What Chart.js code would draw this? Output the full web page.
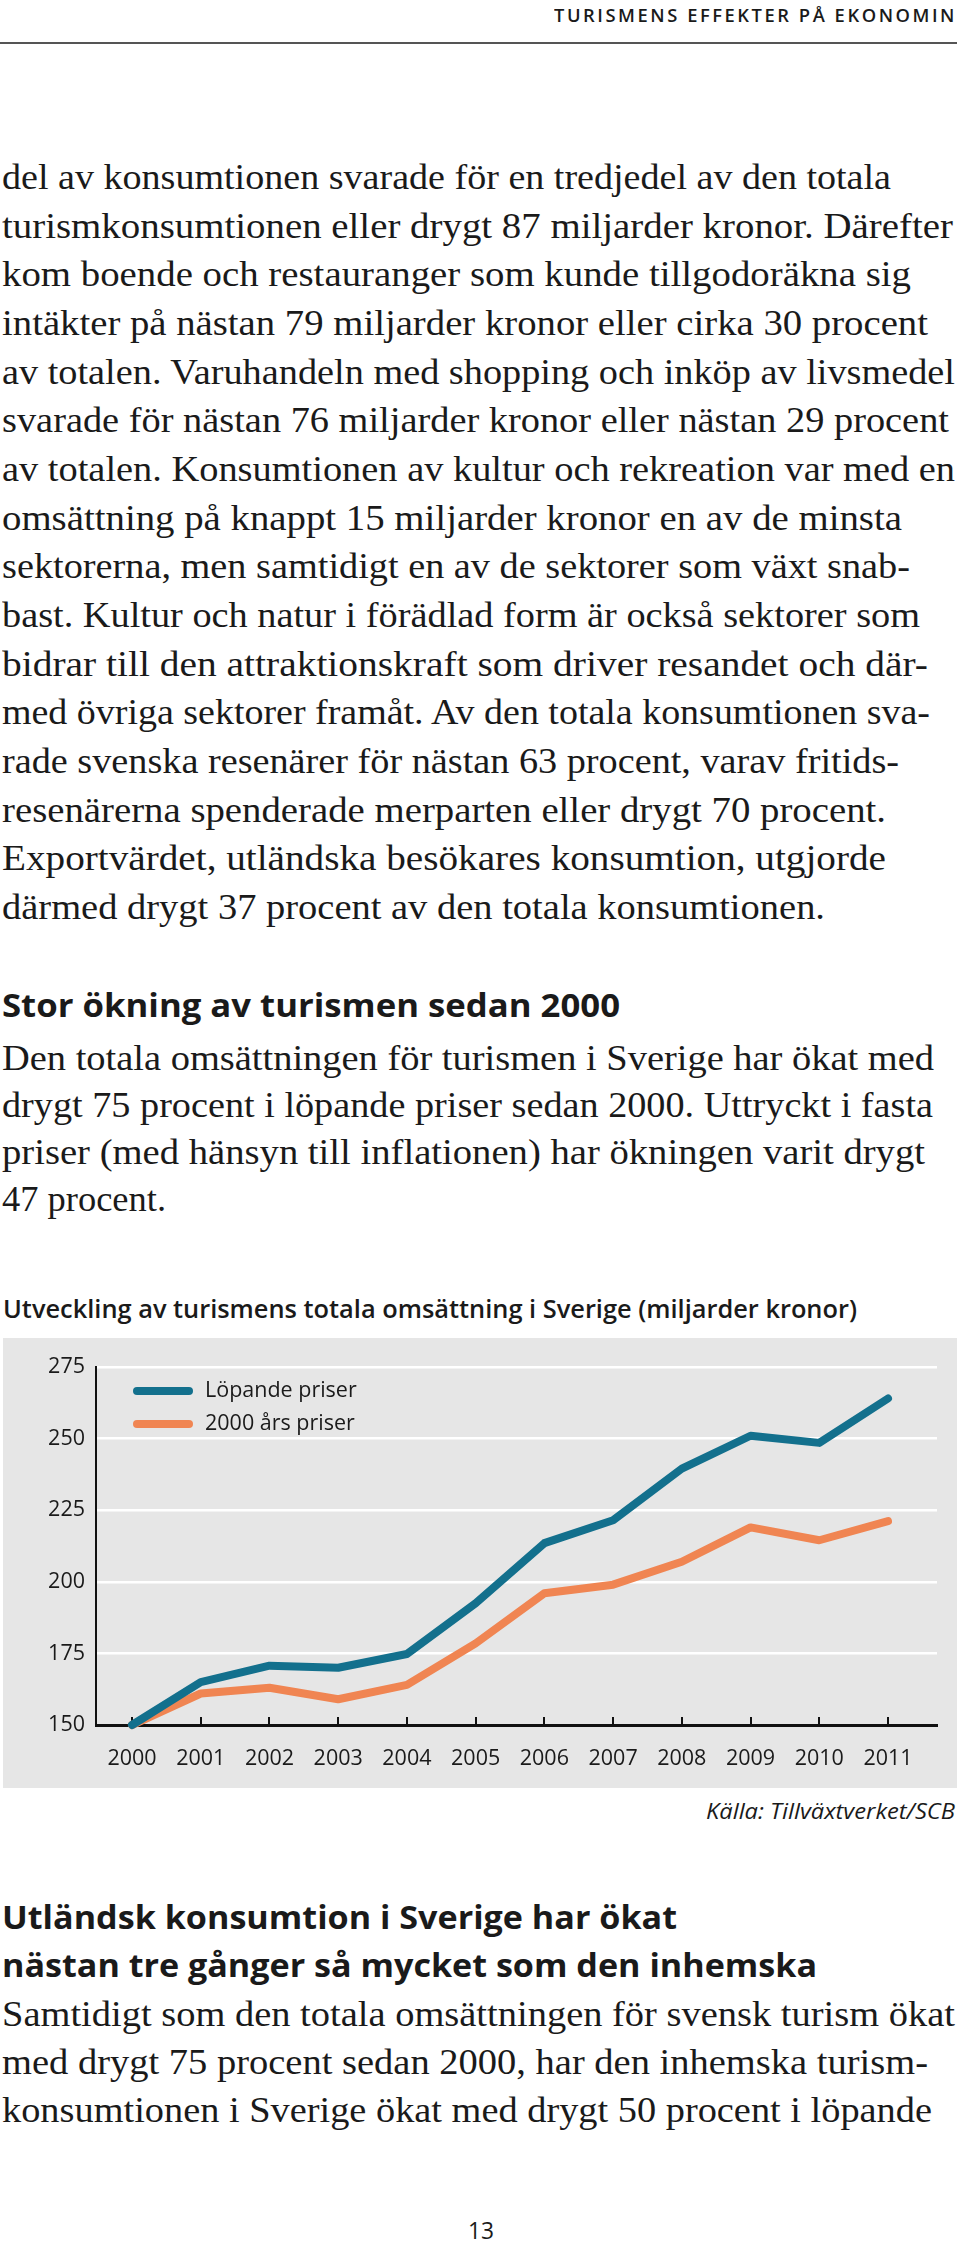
<!DOCTYPE html>
<html><head><meta charset="utf-8">
<script src="https://cdn.jsdelivr.net/npm/chart.js@4.4.0/dist/chart.umd.min.js"></script>
<style>
html,body{margin:0;padding:0;background:#fff;}
body{width:960px;height:2248px;position:relative;overflow:hidden;}
.t{position:absolute;white-space:nowrap;transform-origin:0 50%;color:#1a1a1a;}
.serif{font-family:"Liberation Serif","Times New Roman",serif;font-size:35px;}
.hd{font-family:"Open Sans",sans-serif;font-weight:700;font-size:32px;}
.ct{font-family:"Open Sans",sans-serif;font-weight:600;font-size:25px;}
.src{font-family:"Open Sans",sans-serif;font-style:italic;font-size:22px;}
.top{font-family:"Open Sans",sans-serif;font-weight:600;font-size:18px;letter-spacing:2.5px;}
.pg{font-family:"Open Sans",sans-serif;font-size:23px;}
#rule{position:absolute;left:0;top:42px;width:957px;height:2px;background:#555;}
#box{position:absolute;left:3px;top:1338px;width:954px;height:450px;background:#e6e6e6;}
#c{position:absolute;left:3px;top:1338px;width:954px;height:450px;}
</style>
</head>
<body>
<div id="rule"></div>
<div id="box"></div>
<canvas id="c" width="954" height="450"></canvas>
<script>
// ---- chart data ----
const years = [2000, 2001, 2002, 2003, 2004, 2005, 2006, 2007, 2008, 2009, 2010, 2011];
const lopandePriser = [150, 165, 170.7, 170, 174.8, 192.5, 213.5, 221.5, 239.5, 251, 248.5, 264];
const fastaPriser = [150, 161, 163, 159, 164, 178.5, 196, 199, 207, 219, 214.5, 221.2];
const seriesLabels = ['Löpande priser', '2000 års priser'];
const yTickValues = [150, 175, 200, 225, 250, 275];

// ---- page text ----
const bodyLines = [
 'del av konsumtionen svarade för en tredjedel av den totala',
 'turismkonsumtionen eller drygt 87 miljarder kronor. Därefter',
 'kom boende och restauranger som kunde tillgodoräkna sig',
 'intäkter på nästan 79 miljarder kronor eller cirka 30 procent',
 'av totalen. Varuhandeln med shopping och inköp av livsmedel',
 'svarade för nästan 76 miljarder kronor eller nästan 29 procent',
 'av totalen. Konsumtionen av kultur och rekreation var med en',
 'omsättning på knappt 15 miljarder kronor en av de minsta',
 'sektorerna, men samtidigt en av de sektorer som växt snab-',
 'bast. Kultur och natur i förädlad form är också sektorer som',
 'bidrar till den attraktionskraft som driver resandet och där-',
 'med övriga sektorer framåt. Av den totala konsumtionen sva-',
 'rade svenska resenärer för nästan 63 procent, varav fritids-',
 'resenärerna spenderade merparten eller drygt 70 procent.',
 'Exportvärdet, utländska besökares konsumtion, utgjorde',
 'därmed drygt 37 procent av den totala konsumtionen.'
];
const bodyRights = [891,953,911,928,955,949,955,902,910,920,928,930,899,886,886,825];
const para2 = [
 'Den totala omsättningen för turismen i Sverige har ökat med',
 'drygt 75 procent i löpande priser sedan 2000. Uttryckt i fasta',
 'priser (med hänsyn till inflationen) har ökningen varit drygt',
 '47 procent.'
];
const para2Rights = [934,933,925,166];
const para3 = [
 'Samtidigt som den totala omsättningen för svensk turism ökat',
 'med drygt 75 procent sedan 2000, har den inhemska turism-',
 'konsumtionen i Sverige ökat med drygt 50 procent i löpande'
];
const para3Rights = [955,928,932];

function put(text, cls, left, right, cy, lh) {
  const d = document.createElement('div');
  d.className = 't ' + cls;
  d.textContent = text;
  d.style.left = left + 'px';
  d.style.top = (cy - lh / 2) + 'px';
  d.style.lineHeight = lh + 'px';
  d.style.height = lh + 'px';
  document.body.appendChild(d);
  if (right !== null) {
    const w = d.getBoundingClientRect().width;
    d.style.transform = 'scaleX(' + ((right - left) / w) + ')';
  }
  return d;
}

put('TURISMENS EFFEKTER PÅ EKONOMIN', 'top', 554, 957, 15, 24);
bodyLines.forEach((s, i) => put(s, 'serif', 2, bodyRights[i], 178 + i * 48.67, 44));
put('Stor ökning av turismen sedan 2000', 'hd', 2, 620, 1005, 44);
para2.forEach((s, i) => put(s, 'serif', 2, para2Rights[i], 1059 + i * 47, 44));
put('Utveckling av turismens totala omsättning i Sverige (miljarder kronor)', 'ct', 3, 857, 1308, 34);
put('Källa: Tillväxtverket/SCB', 'src', 706, 955, 1810, 30);
put('Utländsk konsumtion i Sverige har ökat', 'hd', 2, 677, 1917, 44);
put('nästan tre gånger så mycket som den inhemska', 'hd', 2, 817, 1965, 44);
para3.forEach((s, i) => put(s, 'serif', 2, para3Rights[i], 2015 + i * 48, 44));
put('13', 'pg', 468, 494, 2230, 30);

// ---- chart ----
const FONT = { family: 'Open Sans', size: 21.5 };
const inlineLegend = {
  id: 'inlineLegend',
  afterDraw(chart) {
    const { ctx, chartArea: a } = chart;
    chart.data.datasets.forEach((ds, i) => {
      const y = a.top + 24 + i * 33;
      ctx.save();
      ctx.strokeStyle = ds.borderColor;
      ctx.lineWidth = 8;
      ctx.lineCap = 'round';
      ctx.beginPath();
      ctx.moveTo(a.left + 41, y);
      ctx.lineTo(a.left + 93, y);
      ctx.stroke();
      ctx.fillStyle = '#1a1a1a';
      ctx.font = '21.5px "Open Sans"';
      ctx.textBaseline = 'middle';
      ctx.fillText(ds.label, a.left + 109, y);
      ctx.restore();
    });
  }
};

new Chart(document.getElementById('c'), {
  type: 'line',
  data: {
    datasets: [
      { label: seriesLabels[0], data: years.map((x, i) => ({ x: x, y: lopandePriser[i] })),
        borderColor: '#13708d', backgroundColor: '#13708d', borderWidth: 8, pointRadius: 0,
        tension: 0, borderJoinStyle: 'round', borderCapStyle: 'round', clip: false },
      { label: seriesLabels[1], data: years.map((x, i) => ({ x: x, y: fastaPriser[i] })),
        borderColor: '#f08552', backgroundColor: '#f08552', borderWidth: 8, pointRadius: 0,
        tension: 0, borderJoinStyle: 'round', borderCapStyle: 'round', clip: false }
    ]
  },
  options: {
    responsive: false,
    animation: false,
    events: [],
    layout: { padding: { top: 29, right: 20, left: 0, bottom: 0 } },
    plugins: { legend: { display: false }, tooltip: { enabled: false } },
    scales: {
      x: {
        type: 'linear', min: 1999.476, max: 2011.713,
        afterBuildTicks: s => { s.ticks = years.map(v => ({ value: v })); },
        afterFit: s => { s.height = 63; },
        grid: { drawOnChartArea: false, drawTicks: true, tickLength: -8, color: '#111', lineWidth: 2 },
        border: { display: true, color: '#111', width: 3 },
        ticks: { padding: 29, font: FONT, color: '#1a1a1a', maxRotation: 0, autoSkip: false,
                 callback: v => String(v) }
      },
      y: {
        min: 150, max: 275,
        afterBuildTicks: s => { s.ticks = yTickValues.map(v => ({ value: v })); },
        afterFit: s => { s.width = 93; },
        grid: { color: '#ffffff', lineWidth: 2.5, drawTicks: false },
        border: { display: true, color: '#111', width: 2 },
        ticks: { padding: 11, font: FONT, color: '#1a1a1a', callback: v => String(v) }
      }
    }
  },
  plugins: [inlineLegend]
});
</script>
</body></html>
